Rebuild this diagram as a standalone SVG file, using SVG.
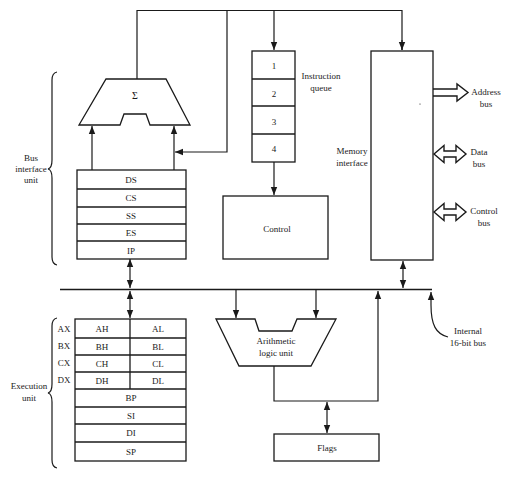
<svg xmlns="http://www.w3.org/2000/svg" width="514" height="480" viewBox="0 0 514 480">
<defs>
<marker id="ah" viewBox="0 0 8 8" refX="8" refY="4" markerWidth="8" markerHeight="8" markerUnits="userSpaceOnUse" orient="auto-start-reverse">
<path d="M0,0.8 L8,4 L0,7.2 Z" fill="#1a1a1a"/>
</marker>
</defs>
<style>
.s{fill:none;stroke:#1a1a1a;stroke-width:1.3}
.b{fill:#fff;stroke:#1a1a1a;stroke-width:1.4}
.c{stroke:#1a1a1a;stroke-width:1.2;fill:none}
.t{font-family:"Liberation Serif","Times New Roman",serif;font-size:9px;fill:#1a1a1a;text-anchor:middle}
.r{font-family:"Liberation Serif","Times New Roman",serif;font-size:10px;fill:#1a1a1a;text-anchor:middle}
</style>
<rect width="514" height="480" fill="#fff"/>

<g id="connectors">
<polyline class="c" points="137,79 137,10.5 402,10.5 402,50"/>
<line class="c" x1="274" y1="10.5" x2="274" y2="50" marker-end="url(#ah)"/>
<line class="c" x1="402" y1="40" x2="402" y2="50" marker-end="url(#ah)"/>
<polyline class="c" points="227,10.5 227,152 175,152" marker-end="url(#ah)"/>
<line class="c" x1="92" y1="170" x2="92" y2="126" marker-end="url(#ah)"/>
<line class="c" x1="174" y1="170" x2="174" y2="126" marker-end="url(#ah)"/>
<line class="c" x1="274" y1="162" x2="274" y2="195" marker-end="url(#ah)"/>
<line x1="60" y1="289.5" x2="432" y2="289.5" stroke="#1a1a1a" stroke-width="1.6"/>
<line class="c" x1="130" y1="259" x2="130" y2="288" marker-end="url(#ah)" marker-start="url(#ah)"/>
<line class="c" x1="130" y1="291" x2="130" y2="318" marker-end="url(#ah)" marker-start="url(#ah)"/>
<line class="c" x1="403" y1="261" x2="403" y2="288" marker-end="url(#ah)" marker-start="url(#ah)"/>
<line class="c" x1="236" y1="289.5" x2="236" y2="318" marker-end="url(#ah)"/>
<line class="c" x1="316" y1="289.5" x2="316" y2="318" marker-end="url(#ah)"/>
<polyline class="c" points="274,366 274,401 378,401 378,291" marker-end="url(#ah)"/>
<line class="c" x1="327" y1="402" x2="327" y2="433" marker-end="url(#ah)" marker-start="url(#ah)"/>
<path class="c" d="M448,337 C436,334 431,325 431,305 L431,292" marker-end="url(#ah)"/>
<path class="b" d="M433,89 L457,89 L457,84 L468,92.5 L457,101 L457,96 L433,96"/>
<path class="b" d="M434,154 L444,145.5 L444,151 L456,151 L456,145.5 L466,154 L456,162.5 L456,157 L444,157 L444,162.5 Z"/>
<path class="b" d="M434,212 L444,203.5 L444,209 L456,209 L456,203.5 L466,212 L456,220.5 L456,215 L444,215 L444,220.5 Z"/>
<path class="c" d="M57,72 Q52,73 52,80 L52,160 Q52,168 48,169 Q52,170 52,178 L52,257 Q52,264 57,265"/>
<path class="c" d="M57,318 Q52,319 52,326 L52,384 Q52,392 48,393 Q52,394 52,402 L52,460 Q52,467 57,468"/>
</g>

<g id="sigma">
<path class="s" d="M106,79 L166,79 L190,125 L150,125 L146,114 L124,114 L120,125 L79,125 Z"/>
<text class="r" x="135" y="99">Σ</text>
</g>

<g id="segment-registers">
<rect class="s" x="77" y="170" width="109" height="89"/>
<line class="s" x1="77" y1="189" x2="186" y2="189"/>
<line class="s" x1="77" y1="207" x2="186" y2="207"/>
<line class="s" x1="77" y1="224" x2="186" y2="224"/>
<line class="s" x1="77" y1="241" x2="186" y2="241"/>
<text class="t" x="131" y="183">DS</text>
<text class="t" x="131" y="201">CS</text>
<text class="t" x="131" y="219">SS</text>
<text class="t" x="131" y="236">ES</text>
<text class="t" x="131" y="254">IP</text>
</g>

<g id="bus-interface-label">
<text class="t" x="31" y="161">Bus</text>
<text class="t" x="31" y="172">interface</text>
<text class="t" x="31" y="183">unit</text>
</g>

<g id="instruction-queue">
<rect class="s" x="252" y="51" width="43" height="111"/>
<line class="s" x1="252" y1="79" x2="295" y2="79"/>
<line class="s" x1="252" y1="106" x2="295" y2="106"/>
<line class="s" x1="252" y1="134" x2="295" y2="134"/>
<text class="t" x="274" y="69">1</text>
<text class="t" x="274" y="97">2</text>
<text class="t" x="274" y="125">3</text>
<text class="t" x="274" y="152">4</text>
<text class="t" x="321" y="79">Instruction</text>
<text class="t" x="321" y="91">queue</text>
</g>

<g id="control">
<rect class="s" x="223" y="196" width="105" height="63"/>
<text class="t" x="277" y="232">Control</text>
</g>

<g id="memory-interface">
<rect class="s" x="371" y="51" width="62" height="209"/>
<text class="t" x="352" y="154">Memory</text>
<text class="t" x="352" y="166">interface</text>
<circle cx="420" cy="104" r="0.6" fill="#1a1a1a"/>
</g>

<g id="bus-labels">
<text class="t" x="486" y="95">Address</text>
<text class="t" x="486" y="107">bus</text>
<text class="t" x="479" y="155">Data</text>
<text class="t" x="479" y="167">bus</text>
<text class="t" x="484" y="214">Control</text>
<text class="t" x="484" y="226">bus</text>
<text class="t" x="468" y="334">Internal</text>
<text class="t" x="468" y="346">16-bit bus</text>
</g>

<g id="general-registers">
<rect class="s" x="75" y="319" width="111" height="142"/>
<line class="s" x1="75" y1="338" x2="186" y2="338"/>
<line class="s" x1="75" y1="355" x2="186" y2="355"/>
<line class="s" x1="75" y1="372" x2="186" y2="372"/>
<line class="s" x1="75" y1="389" x2="186" y2="389"/>
<line class="s" x1="75" y1="407" x2="186" y2="407"/>
<line class="s" x1="75" y1="424" x2="186" y2="424"/>
<line class="s" x1="75" y1="442" x2="186" y2="442"/>
<line class="s" x1="130" y1="319" x2="130" y2="389"/>
<text class="t" x="102" y="332">AH</text>
<text class="t" x="158" y="332">AL</text>
<text class="t" x="102" y="350">BH</text>
<text class="t" x="158" y="350">BL</text>
<text class="t" x="102" y="367">CH</text>
<text class="t" x="158" y="367">CL</text>
<text class="t" x="102" y="384">DH</text>
<text class="t" x="158" y="384">DL</text>
<text class="t" x="131" y="401">BP</text>
<text class="t" x="131" y="419">SI</text>
<text class="t" x="131" y="436">DI</text>
<text class="t" x="131" y="455">SP</text>
<text class="t" x="64" y="332">AX</text>
<text class="t" x="64" y="349">BX</text>
<text class="t" x="64" y="366">CX</text>
<text class="t" x="64" y="383">DX</text>
</g>

<g id="execution-label">
<text class="t" x="29" y="389">Execution</text>
<text class="t" x="29" y="401">unit</text>
</g>

<g id="alu">
<path class="s" d="M216,319 L255,319 L259,331 L292,331 L297,319 L336,319 L311,366 L239,366 Z"/>
<text class="t" x="276" y="344">Arithmetic</text>
<text class="t" x="276" y="356">logic unit</text>
</g>

<g id="flags">
<rect class="s" x="274" y="434" width="105" height="27"/>
<text class="t" x="327" y="451">Flags</text>
</g>
</svg>
